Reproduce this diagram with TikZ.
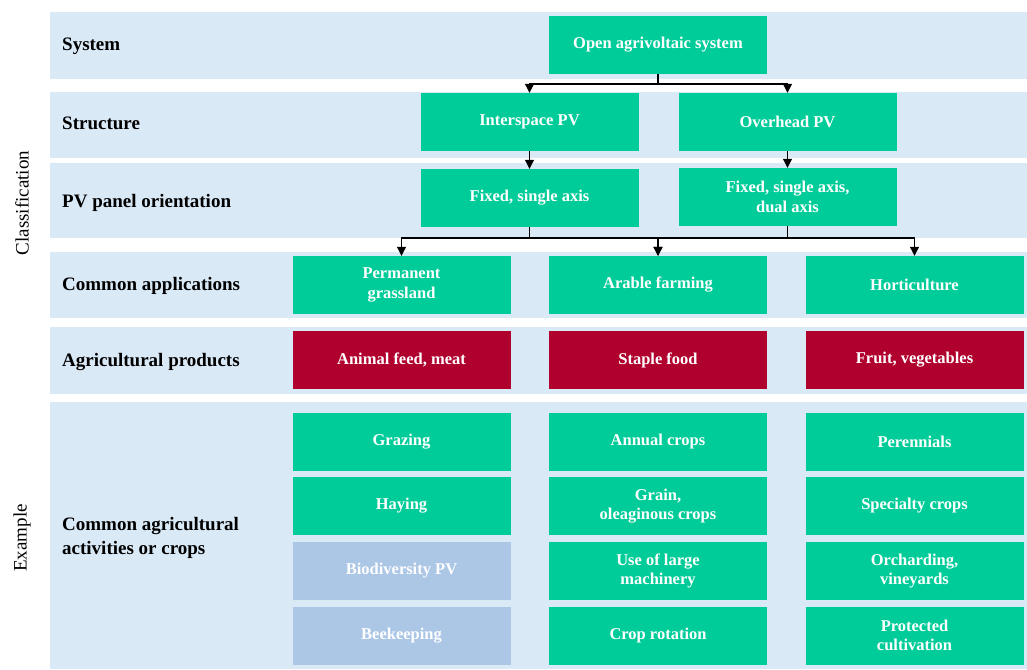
\documentclass[tikz,border=0pt]{standalone}
\usepackage{fontspec}
\setmainfont{Liberation Serif}
\usepackage{tikz}
\usetikzlibrary{arrows.meta, positioning, calc}

\definecolor{agrgreen}{RGB}{0,204,153}
\definecolor{agrred}{RGB}{176,0,46}
\definecolor{bandblue}{RGB}{218,233,246}
\definecolor{paleblue}{RGB}{172,198,230}

\begin{document}
\begin{tikzpicture}[x=1pt, y=-1pt,
	box/.style={rectangle, fill=agrgreen, text=white, inner sep=0pt, align=center,
		minimum width=218pt, minimum height=58pt, font=\fontsize{16.5}{19.5}\selectfont\bfseries},
	prodbox/.style={box, fill=agrred},
	palebox/.style={box, fill=paleblue},
	rowlabel/.style={anchor=west, align=left, inner sep=0pt, font=\fontsize{19}{24}\selectfont\bfseries},
	sidelabel/.style={rotate=90, inner sep=0pt, font=\fontsize{19}{23}\selectfont},
	link/.style={line width=1.1pt, -{Triangle[length=9pt, width=9pt]}}]
			\useasboundingbox (0,0) rectangle (1027,669);
			% Bands
			\fill[bandblue] (50,12) rectangle (1027,79);
			\fill[bandblue] (50,92) rectangle (1027,158);
			\fill[bandblue] (50,163) rectangle (1027,238);
			\fill[bandblue] (50,252) rectangle (1027,318);
			\fill[bandblue] (50,327) rectangle (1027,394);
			\fill[bandblue] (50,402) rectangle (1027,669);
			% Side labels
			\node[sidelabel] (classif) at (22,203) {Classification};
			\node[sidelabel] (exmpl) at (22,538) {Example};
			% Row labels
			\node[rowlabel] (lsys) at (62,46) {System};
			\node[rowlabel] (lstruct) at (62,123) {Structure};
			\node[rowlabel] (lorient) at (62,203) {PV panel orientation};
			\node[rowlabel] (lapp) at (62,286) {Common applications};
			\node[rowlabel] (lprod) at (62,362) {Agricultural products};
			\node[rowlabel] (lcrop) at (62,538) {Common agricultural\\activities or crops};
			% Classification
			\node[box] (sys) at (658,45) {Open agrivoltaic system};
			\node[box] (inter) at (529.5,122) {Interspace PV};
			\node[box] (over) at (787.5,122) {Overhead PV};
			\node[box] (fixa) at (529.5,198) {Fixed, single axis};
			\node[box] (fixb) at (787.5,197) {Fixed, single axis,\\dual axis};
			\node[box] (perm) at (401.5,285) {Permanent\\grassland};
			\node[box] (arable) at (658,285) {Arable farming};
			\node[box] (hort) at (914.5,285) {Horticulture};
			\node[prodbox] (feed) at (401.5,360) {Animal feed, meat};
			\node[prodbox] (staple) at (658,360) {Staple food};
			\node[prodbox] (fruit) at (914.5,360) {Fruit, vegetables};
			% Examples
			\node[box] (graz) at (401.5,441.5) {Grazing};
			\node[box] (hay) at (401.5,506) {Haying};
			\node[palebox] (biod) at (401.5,571) {Biodiversity PV};
			\node[palebox] (bees) at (401.5,635.5) {Beekeeping};
			\node[box] (annual) at (658,441.5) {Annual crops};
			\node[box] (grain) at (658,506) {Grain,\\oleaginous crops};
			\node[box] (mach) at (658,571) {Use of large\\machinery};
			\node[box] (rot) at (658,635.5) {Crop rotation};
			\node[box] (peren) at (914.5,441.5) {Perennials};
			\node[box] (spec) at (914.5,506) {Specialty crops};
			\node[box] (orch) at (914.5,571) {Orcharding,\\vineyards};
			\node[box] (prot) at (914.5,635.5) {Protected\\cultivation};
			% Connectors
			\coordinate (split1) at (658,84);
			\coordinate (split2) at (529.5,238);
			\coordinate (split3) at (787.5,238);
			\draw[link] (sys.south) -- (split1) -| (inter.north);
			\draw[link] (split1) -| (over.north);
			\draw[link] (inter) -- (fixa);
			\draw[link] (over) -- (fixb);
			\draw[link] (fixa.south) -- (split2) -| (perm.north);
			\draw[link] (split2) -| (arable.north);
			\draw[link] (fixb.south) -- (split3) -| (arable.north);
			\draw[link] (split3) -| (hort.north);
		\end{tikzpicture}
\end{document}
